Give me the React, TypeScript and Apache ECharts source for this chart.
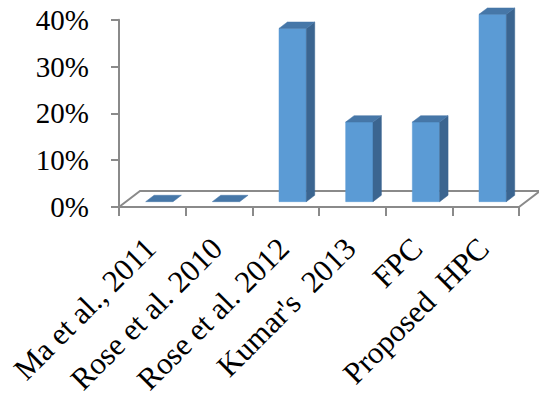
import React, { useEffect, useRef } from "react";
import * as echarts from "echarts";

const categories = [
  "Ma et al., 2011",
  "Rose et al. 2010",
  "Rose et al. 2012",
  "Kumar's  2013",
  "FPC",
  "Proposed  HPC",
];
const values = [0, 0, 0.37, 0.17, 0.17, 0.4];
const yTicks = [0, 0.1, 0.2, 0.3, 0.4];

const FONT = "'Liberation Serif', 'Times New Roman', serif";
const AXIS_COLOR = "#8a8a8a";
const FRONT = "#5b9bd5";
const TOP = "#4677a8";
const SIDE = "#3b6590";
// depth of the 3D floor
const DX = 21;
const DY = -16;

export default function App() {
  const ref = useRef<HTMLDivElement>(null);
  useEffect(() => {
    if (!ref.current) return;
    const chart = echarts.init(ref.current, undefined, { renderer: "svg" });
    chart.setOption({
      animation: false,
      grid: {
        left: 119,
        right: 20,
        top: 19.7,
        bottom: 189,
        containLabel: false,
        outerBoundsMode: "none",
      },
      xAxis: {
        type: "category",
        data: categories,
        boundaryGap: true,
        axisLine: { show: true, lineStyle: { color: AXIS_COLOR, width: 2 } },
        axisTick: { show: true, length: 9, lineStyle: { color: AXIS_COLOR, width: 2 } },
        axisLabel: {
          rotate: 45,
          interval: 0,
          margin: 34,
          padding: [0, 3, 0, 0],
          color: "#000",
          fontFamily: FONT,
          fontSize: 31,
          hideOverlap: false,
        },
      },
      yAxis: {
        type: "value",
        min: 0,
        max: yTicks[yTicks.length - 1],
        interval: 0.1,
        splitLine: { show: false },
        axisLine: { show: true, lineStyle: { color: AXIS_COLOR, width: 2 } },
        axisTick: { show: true, length: 8, lineStyle: { color: AXIS_COLOR, width: 2 } },
        axisLabel: {
          margin: 30,
          color: "#000",
          fontFamily: FONT,
          fontSize: 29,
          formatter: (v: number) => Math.round(v * 100) + "%",
        },
      },
      series: [
        {
          type: "custom",
          clip: false,
          silent: true,
          data: [[0, 0]],
          z: 1,
          renderItem: (params: any, api: any) => {
            const cs = params.coordSys;
            const x0 = cs.x;
            const x1 = cs.x + cs.width;
            const y0 = cs.y + cs.height;
            return {
              type: "polyline",
              shape: {
                points: [
                  [x0, y0],
                  [x0 + DX, y0 + DY],
                  [x1 + DX, y0 + DY],
                  [x1, y0],
                ],
              },
              style: { stroke: AXIS_COLOR, lineWidth: 2, fill: null },
            };
          },
        },
        {
          type: "custom",
          clip: false,
          silent: true,
          z: 3,
          data: values.map((v, i) => [i, v]),
          renderItem: (params: any, api: any) => {
            const idx = api.value(0);
            const v = api.value(1);
            const base = api.coord([idx, 0]);
            const top = api.coord([idx, v]);
            const band = api.size([1, 0])[0];
            const w = band * 0.41;
            const ox = DX / 3;
            const oy = DY / 3;
            const bx = DX * 0.4;
            const by = DY * 0.4;
            const xl = base[0] - w / 2 + ox;
            const xr = xl + w;
            const yb = base[1] + oy;
            const yt = top[1] + oy;
            const children: any[] = [];
            if (yb - yt > 0.5) {
              children.push({
                type: "polygon",
                shape: { points: [[xl, yb], [xr, yb], [xr, yt], [xl, yt]] },
                style: { fill: FRONT, stroke: FRONT, lineWidth: 0.5 },
              });
              children.push({
                type: "polygon",
                shape: {
                  points: [[xr, yb], [xr + bx, yb + by], [xr + bx, yt + by], [xr, yt]],
                },
                style: { fill: SIDE, stroke: SIDE, lineWidth: 0.5 },
              });
            }
            children.push({
              type: "polygon",
              shape: {
                points: [[xl, yt], [xr, yt], [xr + bx, yt + by], [xl + bx, yt + by]],
              },
              style: { fill: TOP, stroke: TOP, lineWidth: 0.5 },
            });
            return { type: "group", children };
          },
        },
      ],
    });
    return () => chart.dispose();
  }, []);
  return (
    <div
      ref={ref}
      style={{ position: "fixed", left: 0, top: 0, width: 539, height: 396, background: "#fff" }}
    />
  );
}
